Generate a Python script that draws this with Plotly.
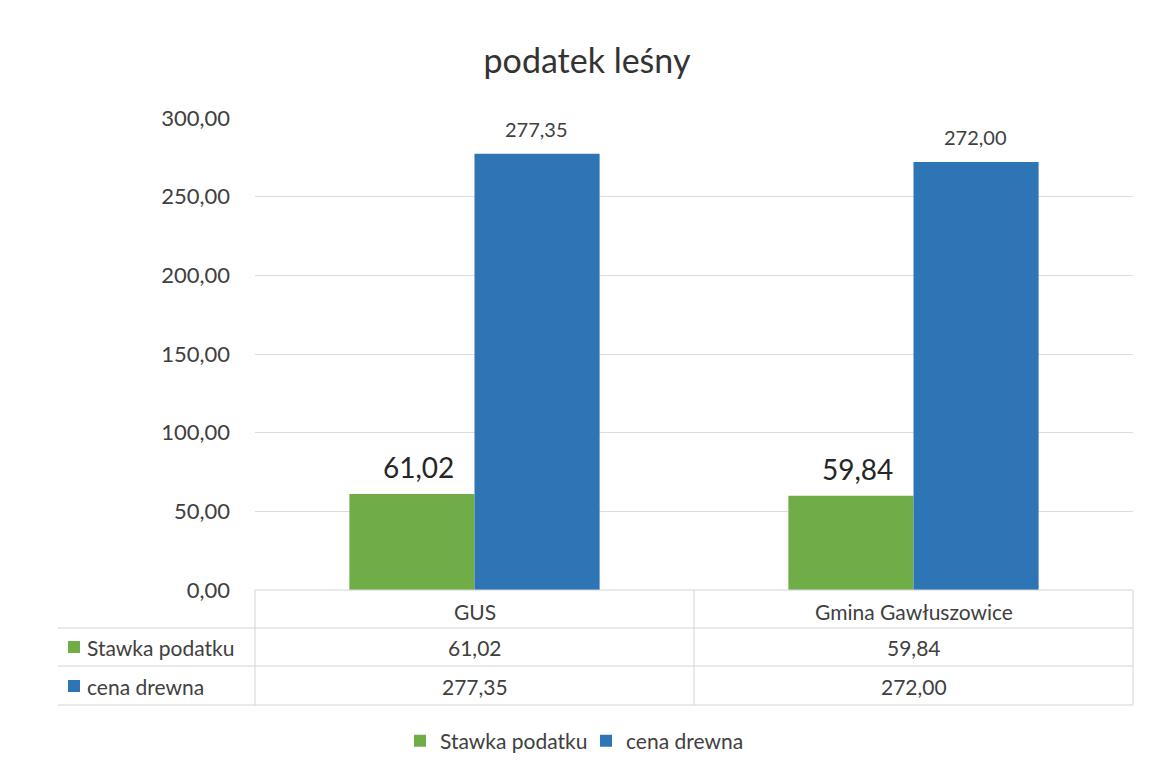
import plotly.graph_objects as go

categories = ["GUS", "Gmina Gawłuszowice"]
series_names = ["Stawka podatku", "cena drewna"]
stawka_podatku = [61.02, 59.84]
cena_drewna = [277.35, 272.00]
y_ticks = [0, 50, 100, 150, 200, 250, 300]

GREEN = "#70AD47"
BLUE = "#2E75B6"
FONT = "Lato"
TXT = "#404040"

OFF = 8                      # default body margin of the html page
W, H = 1154 - OFF, 775 - OFF
# plot area in page pixels
L, R, T, B = 255, 1133, 118, 590


def px_x(x):
    return (x - L) / (R - L)


def px_y(y):
    return (B - y) / (B - T)


def fmt(v):
    return f"{v:.2f}".replace(".", ",")


fig = go.Figure()
fig.add_trace(go.Bar(
    x=categories, y=stawka_podatku, name=series_names[0],
    marker=dict(color=GREEN, line=dict(width=0)),
))
fig.add_trace(go.Bar(
    x=categories, y=cena_drewna, name=series_names[1],
    marker=dict(color=BLUE, line=dict(width=0)),
))

shapes = []
line_style = dict(color="#d4d4d4", width=1)
# horizontal lines of the data table
for y, x0 in [(590, L), (628, 58), (666, 58), (705, 58)]:
    shapes.append(dict(type="line", xref="paper", yref="paper",
                       x0=px_x(x0), x1=1, y0=px_y(y), y1=px_y(y), line=line_style))
# vertical lines of the data table
for x in [L, (L + R) / 2, R]:
    shapes.append(dict(type="line", xref="paper", yref="paper",
                       x0=px_x(x), x1=px_x(x), y0=px_y(590), y1=px_y(705), line=line_style))

annotations = []
# data labels above bars
half = 62
for i, c in enumerate(categories):
    annotations.append(dict(text=fmt(stawka_podatku[i]), x=c, y=stawka_podatku[i],
                            xref="x", yref="y", xshift=-half + 6, yshift=8, showarrow=False,
                            xanchor="center", yanchor="bottom",
                            font=dict(size=28, color="#262626", family=FONT)))
    annotations.append(dict(text=fmt(cena_drewna[i]), x=c, y=cena_drewna[i],
                            xref="x", yref="y", xshift=half, yshift=11, showarrow=False,
                            xanchor="center", yanchor="bottom",
                            font=dict(size=20, color=TXT, family=FONT)))

col_centers = [(L + (L + R) / 2) / 2, ((L + R) / 2 + R) / 2]
for i, c in enumerate(categories):
    annotations.append(dict(text=c, xref="paper", yref="paper", x=px_x(col_centers[i]),
                            y=px_y(611), showarrow=False, xanchor="center", yanchor="middle",
                            font=dict(size=21, color=TXT, family=FONT)))
rows = [(series_names[0], stawka_podatku, GREEN, 647),
        (series_names[1], cena_drewna, BLUE, 686)]
for name, vals, col, yy in rows:
    shapes.append(dict(type="rect", xref="paper", yref="paper",
                       x0=px_x(68), x1=px_x(80), y0=px_y(yy - 6), y1=px_y(yy + 6),
                       fillcolor=col, line=dict(width=0)))
    annotations.append(dict(text=name, xref="paper", yref="paper", x=px_x(85), y=px_y(yy),
                            showarrow=False, xanchor="left", yanchor="middle",
                            font=dict(size=21, color=TXT, family=FONT)))
    for i, v in enumerate(vals):
        annotations.append(dict(text=fmt(v), xref="paper", yref="paper",
                                x=px_x(col_centers[i]), y=px_y(yy), showarrow=False,
                                xanchor="center", yanchor="middle",
                                font=dict(size=21, color=TXT, family=FONT)))

fig.update_layout(
    width=W, height=H,
    margin=dict(l=L - OFF, r=W - (R - OFF), t=T - OFF, b=H - (B - OFF), pad=0),
    paper_bgcolor="white", plot_bgcolor="white",
    separators=", ",
    title=dict(text="podatek leśny", x=(587 - OFF) / W, xanchor="center",
               y=1 - (61 - OFF) / H, yanchor="middle",
               font=dict(size=34, color="#333333", family=FONT)),
    barmode="group", bargap=0.43, bargroupgap=0,
    xaxis=dict(showticklabels=False, showline=False, showgrid=False, zeroline=False),
    yaxis=dict(range=[0, 300], tickvals=y_ticks, tickformat=".2f",
               showgrid=True, gridcolor="#dcdcdc", gridwidth=1, zeroline=False,
               showline=False, ticks="", ticklen=0, automargin=False,
               ticklabelstandoff=24,
               tickfont=dict(size=22, color=TXT, family=FONT)),
    legend=dict(orientation="h", x=px_x(400), xanchor="left", y=px_y(741), yanchor="middle",
                font=dict(size=21, color=TXT, family=FONT), itemwidth=30,
                entrywidth=141, entrywidthmode="pixels", traceorder="normal"),
    shapes=shapes, annotations=annotations,
    showlegend=True,
)

fig.write_html("out.html")
